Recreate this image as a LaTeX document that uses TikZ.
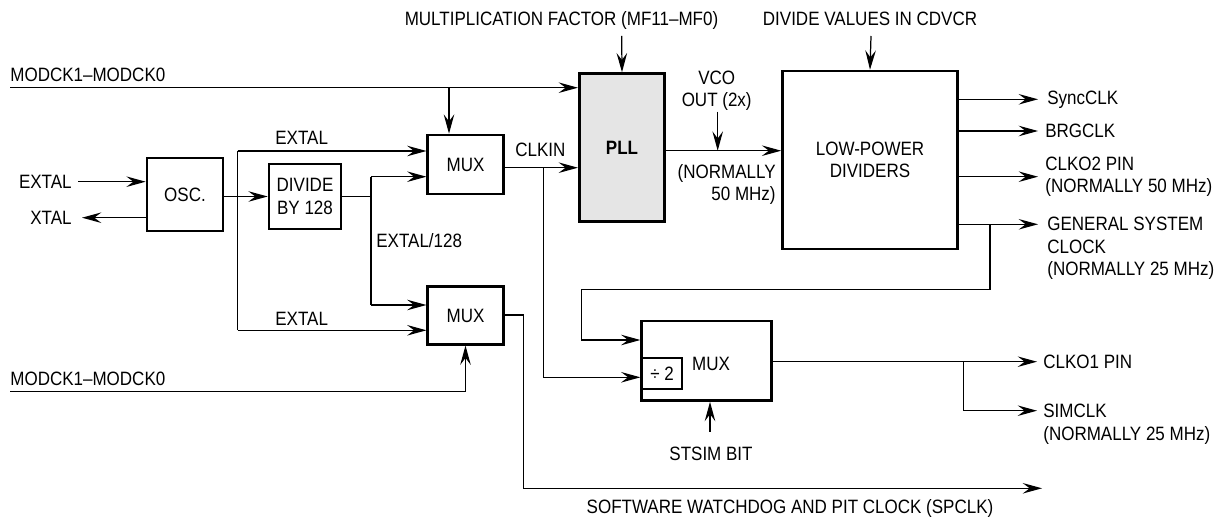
\documentclass[tikz,border=0pt]{standalone}
\usepackage{fontspec}
\setmainfont{Liberation Sans}[FakeStretch=0.88]
\usetikzlibrary{arrows.meta}

\begin{document}
\begin{tikzpicture}[x=0.02cm,y=-0.02cm,
  font=\fontsize{11}{12.8}\selectfont,
  blk/.style={draw,line width=1.5pt,inner sep=0pt,align=center},
  wire/.style={line width=0.7pt},
  sig/.style={wire,-{Stealth[length=11pt,width=6pt,inset=4pt]}},
  lbl/.style={inner sep=0pt,align=left}]
  \useasboundingbox (0,0) rectangle (1227,523);

  % Blocks
  \node[blk,minimum width=1.52cm,minimum height=1.46cm] (osc) at (185,194.5) {OSC.};
  \node[blk,minimum width=1.44cm,minimum height=1.30cm] (div) at (305,196.5) {DIVIDE\\BY 128};
  \node[blk,minimum width=1.51cm,minimum height=1.18cm] (mux1) at (465.5,164.5) {MUX};
  \node[blk,minimum width=1.51cm,minimum height=1.15cm] (mux2) at (465.5,315.5) {MUX};
  \node[blk,fill=black!10,minimum width=1.71cm,minimum height=2.96cm] (pll) at (622,147.6) {\bfseries PLL};
  \node[blk,minimum width=3.50cm,minimum height=3.56cm] (lpd) at (870,160) {LOW-POWER\\DIVIDERS};
  \node[blk,minimum width=2.60cm,minimum height=1.59cm] (mux3) at (706.7,360.8) {};
  \node[lbl] (mux3l) at (711,364) {MUX};
  \node[draw,line width=1.1pt,inner sep=0pt,minimum width=0.81cm,minimum height=0.61cm] (half) at (662,373.7) {÷ 2};

  % Oscillator pins
  \coordinate (extalin) at (78,181.7);
  \coordinate (xtalout) at (82,217.7);
  \draw[sig] (extalin) -- (extalin -| osc.west);
  \draw[sig] (xtalout -| osc.west) -- (xtalout);
  \node[lbl,anchor=east] (extall) at (72,181.7) {EXTAL};
  \node[lbl,anchor=east] (xtall) at (72,217.7) {XTAL};
  \draw[sig] (osc.east |- div.west) -- (div.west);

  % EXTAL taps
  \coordinate (tapt) at (237.7,151);
  \coordinate (tapb) at (237.7,330.3);
  \draw[wire] (tapt) -- (tapb);
  \draw[sig] (tapt) -- (tapt -| mux1.west);
  \draw[sig] (tapb) -- (tapb -| mux2.west);
  \node[lbl,anchor=base west] (extt) at (275,145) {EXTAL};
  \node[lbl,anchor=base west] (extb) at (275,326) {EXTAL};

  % Divider output
  \coordinate (dvt) at (371,176.7);
  \coordinate (dvb) at (371,305);
  \draw[wire] (div.east) -- (div.east -| dvt);
  \draw[wire] (dvt) -- (dvb);
  \draw[sig] (dvt) -- (dvt -| mux1.west);
  \draw[sig] (dvb) -- (dvb -| mux2.west);
  \node[lbl,anchor=base west] (ext128) at (376,248) {EXTAL/128};

  % Mode pins
  \coordinate (modt) at (10,87.7);
  \coordinate (modtap) at (449,87.7);
  \coordinate (modb) at (10,391.7);
  \draw[sig] (modt) -- (modt -| pll.west);
  \draw[sig] (modtap) -- (modtap |- mux1.north);
  \draw[sig] (modb) -| (mux2.south);
  \node[lbl,anchor=base west] (modtl) at (10,82) {MODCK1\textendash MODCK0};
  \node[lbl,anchor=base west] (modbl) at (10,386) {MODCK1\textendash MODCK0};

  % CLKIN
  \coordinate (ckjoin) at (543.3,167.7);
  \coordinate (ckdown) at (543.3,377.3);
  \draw[wire] (ckjoin -| mux1.east) -- (ckjoin);
  \draw[sig] (ckjoin) -- (ckjoin -| pll.west);
  \draw[wire] (ckjoin) -- (ckdown);
  \draw[sig] (ckdown) -- (ckdown -| mux3.west);
  \node[lbl,anchor=base west] (clkinl) at (515,157) {CLKIN};

  % SPCLK
  \coordinate (spa) at (523.3,315);
  \coordinate (spb) at (523.3,488.3);
  \coordinate (spend) at (1042,488.3);
  \draw[sig] (spa -| mux2.east) -- (spa) -- (spb) -- (spend);
  \node[lbl,anchor=north] (spclkl) at (790,499) {SOFTWARE WATCHDOG AND PIT CLOCK (SPCLK)};

  % PLL
  \coordinate (mftop) at (621.7,36);
  \coordinate (vco) at (717.7,150.7);
  \coordinate (vcotop) at (717.7,111.7);
  \draw[sig] (mftop) -- (pll.north);
  \draw[sig] (vco -| pll.east) -- (vco -| lpd.west);
  \draw[sig] (vcotop) -- (vco);
  \node[lbl,anchor=base] (mfl) at (561.5,26) {MULTIPLICATION FACTOR (MF11\textendash MF0)};
  \node[lbl,align=center,anchor=south] (vcol) at (716.7,111) {VCO\\OUT (2x)};
  \node[lbl,align=right,anchor=north east] (norm50) at (776,164) {(NORMALLY\\50 MHz)};

  % Dividers
  \coordinate (cdtop) at (871,36);
  \draw[sig] (cdtop) -- (lpd.north);
  \node[lbl,anchor=base] (cdl) at (870,26) {DIVIDE VALUES IN CDVCR};
  \foreach \y/\n in {99.3/sync,131/brg,176.7/clko2,224.3/gsc}
    \coordinate (\n) at (1038,\y);
  \foreach \n in {sync,brg,clko2,gsc}
    \draw[sig] (\n -| lpd.east) -- (\n);
  \node[lbl,anchor=west] (syncl) at (1047,99.3) {SyncCLK};
  \node[lbl,anchor=west] (brgl) at (1045,131) {BRGCLK};
  \node[lbl,anchor=west] (clko2l) at (1045,176.7) {CLKO2 PIN\\(NORMALLY 50 MHz)};
  \node[lbl,anchor=north west] (gscl) at (1047,217) {GENERAL SYSTEM\\CLOCK\\(NORMALLY 25 MHz)};

  % System clock back to MUX
  \coordinate (gtap) at (990,224.3);
  \coordinate (gback) at (581.7,289.3);
  \coordinate (gin) at (581.7,340);
  \draw[sig] (gtap) |- (gback) -- (gin) -- (gin -| mux3.west);

  % MUX outputs
  \coordinate (m3) at (963.3,361.7);
  \coordinate (clko1) at (1037,361.7);
  \coordinate (simclk) at (1037,410.7);
  \draw[sig] (m3 -| mux3.east) -- (clko1);
  \draw[sig] (m3) |- (simclk);
  \node[lbl,anchor=west] (clko1l) at (1043,361.7) {CLKO1 PIN};
  \node[lbl,anchor=north west] (simclkl) at (1043,404) {SIMCLK\\(NORMALLY 25 MHz)};

  % STSIM
  \coordinate (stsim) at (710,431.7);
  \draw[sig] (stsim) -- (stsim |- mux3.south);
  \node[lbl,anchor=north] (stsiml) at (711,447) {STSIM BIT};
\end{tikzpicture}
\end{document}
